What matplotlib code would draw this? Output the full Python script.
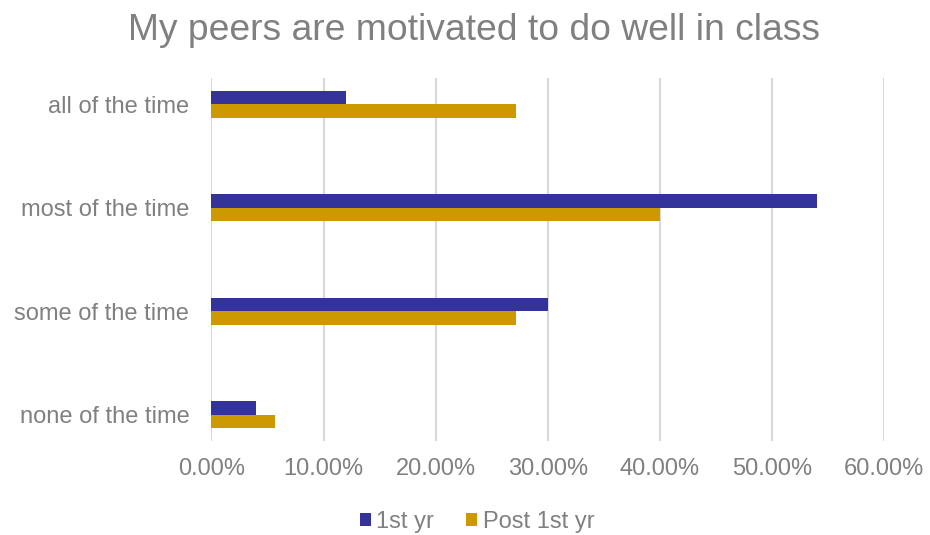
import matplotlib
matplotlib.use("Agg")
import matplotlib.pyplot as plt
import numpy as np
from matplotlib.ticker import FuncFormatter
from matplotlib.patches import Patch

plt.rcParams['font.family'] = ['Liberation Sans', 'DejaVu Sans']

categories = ["none of the time", "some of the time", "most of the time", "all of the time"]
first_yr = [4.0, 30.0, 54.0, 12.0]
post_first_yr = [5.71, 27.14, 40.0, 27.14]
series_names = ["1st yr", "Post 1st yr"]
x_ticks = [0, 10, 20, 30, 40, 50, 60]

c_first = "#333399"
c_post = "#CC9900"
text_gray = "#808080"

fig = plt.figure(figsize=(9.3, 5.35), dpi=100)
ax = fig.add_axes([0.2274, 0.1757, 0.7231, 0.6785])

y = np.arange(len(categories))
h = 0.132
ax.barh(y + h / 2, first_yr, height=h, color=c_first, zorder=3)
ax.barh(y - h / 2, post_first_yr, height=h, color=c_post, zorder=3)

ax.set_xlim(0, 60)
ax.set_ylim(-0.254, 3.254)
ax.set_xticks(x_ticks)
ax.xaxis.set_major_formatter(FuncFormatter(lambda v, p: f"{v:.2f}%"))
ax.set_yticks(y)
ax.set_yticklabels(categories)
ax.grid(axis="x", color="#d9d9d9", linewidth=1.5, zorder=0)
for s in ax.spines.values():
    s.set_visible(False)
ax.tick_params(axis="both", length=0, labelsize=17, labelcolor=text_gray)
ax.tick_params(axis="x", pad=12)
ax.tick_params(axis="y", pad=16)

fig.suptitle("My peers are motivated to do well in class", x=0.51, y=0.975,
             fontsize=26.8, color=text_gray)

handles = [Patch(facecolor=c_first), Patch(facecolor=c_post)]
fig.legend(handles, series_names, loc="center", bbox_to_anchor=(0.513, 0.024),
           ncol=2, frameon=False, fontsize=17, labelcolor=text_gray,
           handlelength=0.48, handleheight=0.48, handletextpad=0.22, columnspacing=1.35)

fig.savefig("out.png", dpi=100)
